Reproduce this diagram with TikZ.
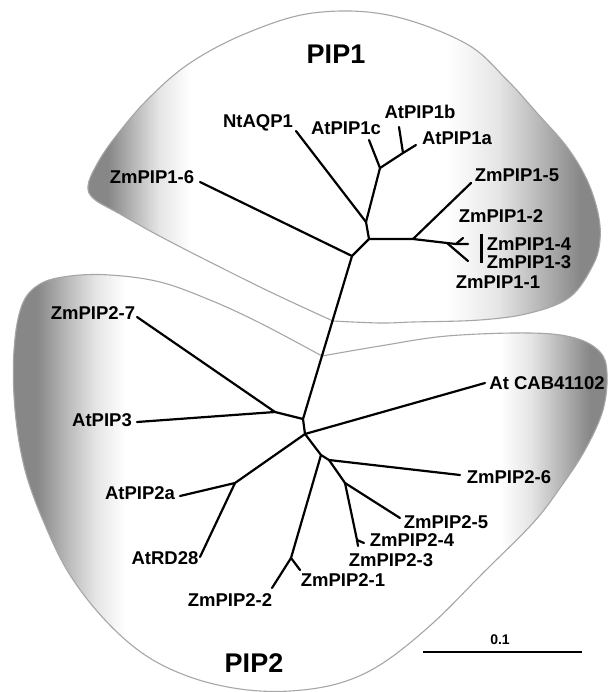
\documentclass[tikz,border=0pt]{standalone}
\usepackage{fontspec}
\setmainfont{Liberation Sans}
\colorlet{blobdark}{black!47}
\colorlet{blobmid}{black!28}
\colorlet{bloblight}{black!10}
\pgfdeclarehorizontalshading{pipone}{100bp}{color(0bp)=(blobdark);color(25bp)=(blobdark);color(27bp)=(blobdark);color(29.5bp)=(blobmid);color(32bp)=(bloblight);color(35bp)=(white);color(60bp)=(white);color(65bp)=(bloblight);color(69bp)=(blobmid);color(73bp)=(blobdark);color(100bp)=(blobdark)}
\pgfdeclarehorizontalshading{piptwo}{100bp}{color(0bp)=(blobdark);color(25bp)=(blobdark);color(27bp)=(blobdark);color(29.5bp)=(blobmid);color(32bp)=(bloblight);color(34.5bp)=(white);color(66bp)=(white);color(68.5bp)=(bloblight);color(71bp)=(blobmid);color(73.5bp)=(blobdark);color(100bp)=(blobdark)}
\begin{document}
\begin{tikzpicture}[x=1pt,y=-1pt,
  lab/.style={font=\bfseries\fontsize{18.5}{20}\selectfont, inner sep=0pt},
  big/.style={font=\bfseries\fontsize{27}{30}\selectfont, inner sep=0pt},
  br/.style={line width=2.2pt, line cap=round, line join=round},
  blob/.style={draw=black!35, line width=1.1pt}]
\useasboundingbox (0,0) rectangle (608,692);
\fill[white] (0,0) rectangle (608,692);
% PIP1 region
\path[blob, shading=pipone] plot[smooth, tension=0.6] coordinates {
 (333,321) (260,287) (167,240) (120,214) (94,199) (88,186) (96,166) (113,140) (147,100) (190,63) (247,33) (313,13)
 (388,15) (465,43) (507,80) (537,113) (567,147) (587,180) (598,213) (600,240) (593,265) (570,297) (530,313)
 (480,320) (413,322) (380,323) (333,321)} -- cycle;
% PIP2 region
\path[blob, shading=piptwo] plot[smooth, tension=0.6] coordinates {
 (322,356) (380,346) (447,336) (530,333) (575,338) (600,352) (607,373) (603,410) (585,450) (560,488) (533,523)
 (483,573) (433,623) (383,663) (340,683) (290,691) (240,689) (190,677) (145,655) (105,620) (70,575) (45,525)
 (25,470) (15,410) (14,350) (22,305) (40,284) (70,276) (110,275) (160,282) (210,300) (260,323) (322,356)} -- cycle;
% internal nodes
\coordinate (A) at (366,222);
\coordinate (B) at (369,239);
\coordinate (C) at (352,256);
\coordinate (D) at (413,239);
\coordinate (E) at (447,243);
\coordinate (E1) at (456,244);
\coordinate (F) at (380,168);
\coordinate (G) at (403,153);
\coordinate (H) at (303,419);
\coordinate (I) at (305,434);
\coordinate (J) at (275,412);
\coordinate (K) at (235,483);
\coordinate (L) at (321,455);
\coordinate (M) at (291,558);
\coordinate (N) at (329,460);
\coordinate (O) at (345,483);
\coordinate (P) at (357,540);
% tips
\coordinate (tZ16) at (200,182);
\coordinate (tNt) at (296,131);
\coordinate (t1c) at (369,140);
\coordinate (t1b) at (399,127);
\coordinate (t1a) at (416,145);
\coordinate (tZ15) at (471,183);
\coordinate (tZ12) at (463,238);
\coordinate (tZ14) at (468,244);
\coordinate (tZ13) at (468,261);
\coordinate (barT) at (481,234);
\coordinate (barB) at (481,263);
\coordinate (tZ27) at (137,317);
\coordinate (tP3) at (137,422);
\coordinate (tCAB) at (485,383);
\coordinate (t2a) at (180,496);
\coordinate (tRD) at (200,557);
\coordinate (tZ22) at (272,588);
\coordinate (tZ21) at (300,570);
\coordinate (tZ26) at (460,475);
\coordinate (tZ25) at (400,518);
\coordinate (tZ24) at (364,543);
\coordinate (tZ23) at (358,546);
\coordinate (sb1) at (423,652);
\coordinate (sb2) at (582,652);
% branches
\draw[br] (tNt) -- (A) -- (B) -- (C) -- (H);
\draw[br] (t1c) -- (F) -- (A);
\draw[br] (t1b) -- (G) -- (F);
\draw[br] (t1a) -- (G);
\draw[br] (tZ16) -- (C);
\draw[br] (B) -- (D) -- (E) -- (E1) -- (tZ14);
\draw[br] (E1) -- (tZ12);
\draw[br] (E) -- (tZ13);
\draw[br] (D) -- (tZ15);
\draw[line width=3pt] (barT) -- (barB);
\draw[br] (tZ27) -- (J) -- (H) -- (I);
\draw[br] (tP3) -- (J);
\draw[br] (I) -- (tCAB);
\draw[br] (I) -- (K) -- (t2a);
\draw[br] (K) -- (tRD);
\draw[br] (I) -- (L) -- (M) -- (tZ22);
\draw[br] (M) -- (tZ21);
\draw[br] (L) -- (N) -- (tZ26);
\draw[br] (N) -- (O) -- (tZ25);
\draw[br] (O) -- (P) -- (tZ24);
\draw[br] (P) -- (tZ23);
\draw[line width=2pt] (sb1) -- (sb2);
% labels
\node[big] (pip1) at (336,54) {PIP1};
\node[big] (pip2) at (254,663) {PIP2};
\node[lab] (lNt) at (258,123) {NtAQP1};
\node[lab] (l1c) at (346,128) {AtPIP1c};
\node[lab] (l1b) at (420,112) {AtPIP1b};
\node[lab] (l1a) at (457,138) {AtPIP1a};
\node[lab] (lZ16) at (152,177) {ZmPIP1-6};
\node[lab] (lZ15) at (517,175) {ZmPIP1-5};
\node[lab] (lZ12) at (501,216) {ZmPIP1-2};
\node[lab] (lZ14) at (529,244) {ZmPIP1-4};
\node[lab] (lZ13) at (529,262) {ZmPIP1-3};
\node[lab] (lZ11) at (498,282) {ZmPIP1-1};
\node[lab] (lZ27) at (93,313) {ZmPIP2-7};
\node[lab] (lP3) at (102,420) {AtPIP3};
\node[lab] (lCAB) at (547,383) {At CAB41102};
\node[lab] (l2a) at (140,493) {AtPIP2a};
\node[lab] (lRD) at (165,558) {AtRD28};
\node[lab] (lZ26) at (509,477) {ZmPIP2-6};
\node[lab] (lZ25) at (446,522) {ZmPIP2-5};
\node[lab] (lZ24) at (412,540) {ZmPIP2-4};
\node[lab] (lZ23) at (391,560) {ZmPIP2-3};
\node[lab] (lZ21) at (343,580) {ZmPIP2-1};
\node[lab] (lZ22) at (230,600) {ZmPIP2-2};
\node[font=\bfseries\fontsize{14}{15}\selectfont, inner sep=0pt] (scl) at (500,640) {0.1};
\end{tikzpicture}
\end{document}
